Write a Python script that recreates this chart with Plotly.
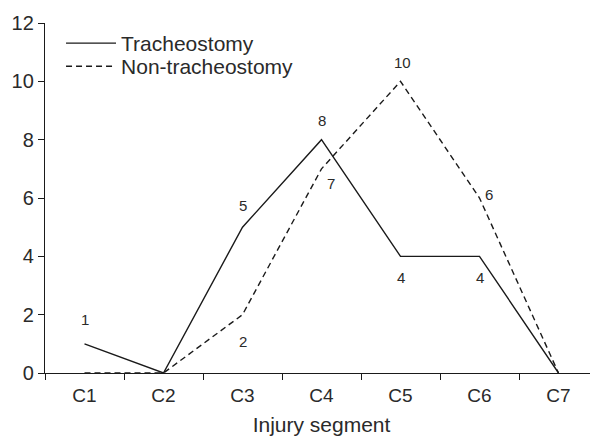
import plotly.graph_objects as go

categories = ["C1", "C2", "C3", "C4", "C5", "C6", "C7"]
tracheostomy = [1, 0, 5, 8, 4, 4, 0]
non_tracheostomy = [0, 0, 2, 7, 10, 6, 0]
y_ticks = [0, 2, 4, 6, 8, 10, 12]

# label offsets (px) for value labels: (xshift, yshift)
trach_label_shift = [(0, 24), None, (0, 22), (0, 19), (0, -21), (0, -21), None]
non_label_shift = [None, None, (0, -27), (9, -15), (2, 19), (9, 4), None]

FONT = "Liberation Sans, Arial, sans-serif"
TXT = "#2a2a2a"
LINE = "#1a1a1a"

fig = go.Figure()
fig.add_trace(go.Scatter(
    x=categories, y=tracheostomy, mode="lines", name="Tracheostomy",
    line=dict(color=LINE, width=1.4), legend="legend",
))
fig.add_trace(go.Scatter(
    x=categories, y=non_tracheostomy, mode="lines", name="Non-tracheostomy",
    line=dict(color=LINE, width=1.4, dash="6px,4px"), legend="legend2",
))

annotations = []
for series, shifts in ((tracheostomy, trach_label_shift), (non_tracheostomy, non_label_shift)):
    for c, v, s in zip(categories, series, shifts):
        if s is None:
            continue
        annotations.append(dict(
            x=c, y=v, xref="x", yref="y", text=str(v), showarrow=False,
            xshift=s[0], yshift=s[1], font=dict(family=FONT, size=15, color=TXT),
        ))

legend_style = dict(
    xanchor="left", yanchor="top", bgcolor="rgba(0,0,0,0)",
    font=dict(size=21, family=FONT, color=TXT), itemwidth=50,
)

# The page body has an 8px margin, so the figure is offset by 8px.
fig.update_layout(
    width=590, height=431,
    margin=dict(l=37, r=0, t=15, b=66),
    paper_bgcolor="white", plot_bgcolor="white",
    font=dict(family=FONT, color=TXT, size=19),
    showlegend=True,
    legend=dict(x=0.029, y=1.0, **legend_style),
    legend2=dict(x=0.029, y=0.934, **legend_style),
    annotations=annotations,
    xaxis=dict(
        type="category", categoryorder="array", categoryarray=categories,
        range=[-0.5, 6.5], showgrid=False, zeroline=False, automargin=False,
        showline=True, linecolor=LINE, linewidth=1.4,
        ticks="outside", tickson="boundaries", ticklen=6, tickcolor=LINE, tickwidth=1.4,
        ticklabelstandoff=5,
        tickfont=dict(size=19, family=FONT, color=TXT),
        title=dict(text="Injury segment", font=dict(size=21, family=FONT, color=TXT), standoff=12),
    ),
    yaxis=dict(
        range=[0, 12], tickvals=y_ticks, showgrid=False, zeroline=False, automargin=False,
        showline=True, linecolor=LINE, linewidth=1.4,
        ticks="outside", ticklen=6, tickcolor=LINE, tickwidth=1.4,
        tickfont=dict(size=20, family=FONT, color=TXT),
    ),
)

fig.write_html("out.html")
